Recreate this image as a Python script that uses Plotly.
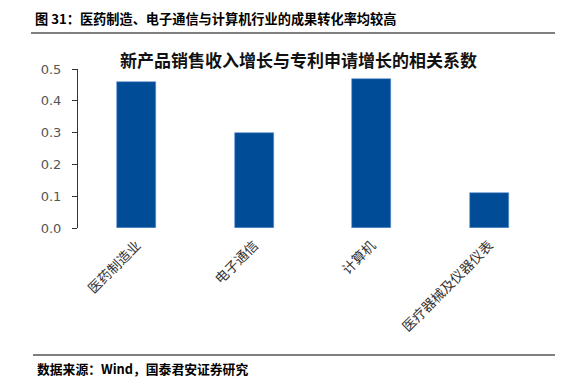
import plotly.graph_objects as go

categories = ["医药制造业", "电子通信", "计算机", "医疗器械及仪器仪表"]
values = [0.46, 0.30, 0.47, 0.11]
y_ticks = [0.0, 0.1, 0.2, 0.3, 0.4, 0.5]
y_tick_text = ["0.0", "0.1", "0.2", "0.3", "0.4", "0.5"]

W, H = 585, 380
L, R, T, B = 78, 37, 69, 152
ph = H - T - B
pw = W - L - R

def px(x):
    return (x - L) / pw

def py(y):
    return (H - B - y) / ph

cjk = "Noto Sans CJK SC"

fig = go.Figure()
fig.add_trace(go.Bar(
    x=categories, y=values, width=0.33,
    marker=dict(color="#004C97", line=dict(color="#5B8FD0", width=0.6)),
    xaxis="x2", yaxis="y",
))

fig.update_layout(
    width=W, height=H,
    margin=dict(l=L, r=R, t=T, b=B),
    paper_bgcolor="white", plot_bgcolor="white",
    showlegend=False,
    bargap=0,
    xaxis=dict(range=[-0.5, 3.5], tickvals=[-0.5, 0.5, 1.5, 2.5, 3.5], showticklabels=False,
               ticks="outside", ticklen=5, tickcolor="#333", showline=True, linecolor="#333",
               linewidth=1, showgrid=False, zeroline=False, fixedrange=True),
    xaxis2=dict(overlaying="x", range=[-0.5, 3.5], type="category", tickangle=-45,
                ticks="", showline=False, showgrid=False, ticklabelstandoff=6,
                tickfont=dict(family=cjk, size=13.5, color="#333")),
    yaxis=dict(range=[0, 0.5], tickvals=y_ticks, ticktext=y_tick_text,
               ticks="outside", ticklen=5, tickcolor="#333", showline=True,
               linecolor="#333", linewidth=1, showgrid=False, zeroline=False,
               ticklabelstandoff=8,
               tickfont=dict(family="DejaVu Sans", size=13, color="#555")),
    font=dict(family=cjk),
)

fig.add_annotation(text="<b>图 31：医药制造、电子通信与计算机行业的成果转化率均较高</b>",
                   xref="paper", yref="paper", x=px(33), y=py(18), xanchor="left", yanchor="middle",
                   showarrow=False, font=dict(family=cjk, size=13.2, color="#000"))
fig.add_annotation(text="<b>新产品销售收入增长与专利申请增长的相关系数</b>",
                   xref="paper", yref="paper", x=px(298), y=py(59), xanchor="center", yanchor="middle",
                   showarrow=False, font=dict(family=cjk, size=17, color="#111"))
fig.add_annotation(text="<b>数据来源：Wind，国泰君安证券研究</b>",
                   xref="paper", yref="paper", x=px(35), y=py(368), xanchor="left", yanchor="middle",
                   showarrow=False, font=dict(family=cjk, size=12.8, color="#000"))
fig.add_shape(type="line", xref="paper", yref="paper", x0=px(31), x1=px(555), y0=py(33), y1=py(33),
              line=dict(color="#000", width=1))
fig.add_shape(type="line", xref="paper", yref="paper", x0=px(33), x1=px(555), y0=py(355), y1=py(355),
              line=dict(color="#000", width=1))

fig.write_html("out.html")
